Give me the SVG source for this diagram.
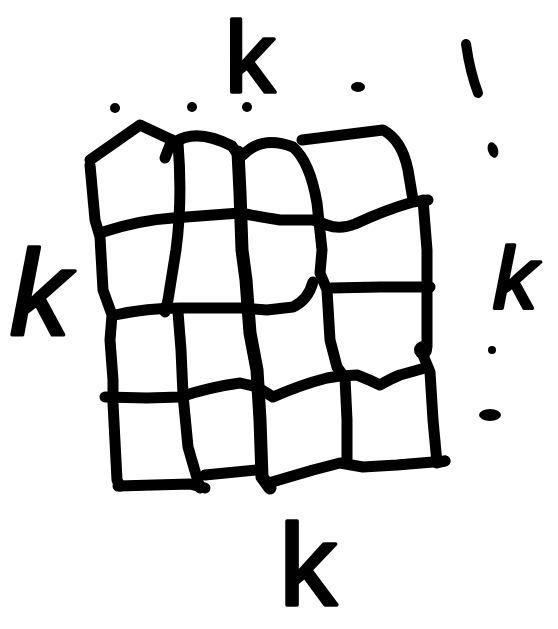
<svg xmlns="http://www.w3.org/2000/svg" width="558" height="629" viewBox="0 0 558 629">
<style>
.ln{fill:none;stroke:#000;stroke-width:11;stroke-linecap:round;stroke-linejoin:round}
.dot{fill:#000}
.lbl{font-family:"Liberation Sans",Arial,sans-serif;font-weight:normal;fill:#000;stroke:#000;stroke-width:3.5;stroke-linejoin:round;text-anchor:middle}
</style>
<rect width="558" height="629" fill="#fff"/>
<g id="grid">
<path class="ln" d="M90,160 L140,125 L172,140"/>
<path class="ln" d="M90,165 L95,220 L100,237 L103,290 L112,315 L110,340 L113,380 L113,403 L117,480 L120,486"/>
<path class="ln" d="M165,158 L172,140"/>
<path class="ln" d="M178,143 C181,180 180,220 176,250 L168,300 L165,312"/>
<path class="ln" d="M178,312 L181,350 L183,395 L188,447 L197,478 L200,488"/>
<path class="ln" d="M175,142 Q197,128 232,146 L240,158"/>
<path class="ln" d="M238,152 L240,193 L242,250 L246,280 L248,307 L250,333 L257,370 L260,420 L262,477 L270,488" style="stroke-width:13"/>
<path class="ln" d="M243,155 Q262,135 293,147 Q310,162 317,203 L322,250 L320,273 L327,290 L330,340 L337,367 L345,378 L347,420 L347,462"/>
<path class="ln" d="M302,140 L383,130 Q402,140 408,170 L413,200"/>
<path class="ln" d="M423,200 L427,250 L427,290 L427,347"/>
<circle class="dot" cx="423" cy="350" r="9"/>
<path class="ln" d="M423,355 L430,372 L433,420 L437,463 L445,461"/>
<path class="ln" d="M103,232 Q140,220 173,218 L213,215 L240,213 Q255,216 280,220 L313,220 L327,225 Q340,230 355,224 Q385,210 413,202 L428,200"/>
<path class="ln" d="M115,315 Q147,308 180,308 L240,308 L267,310 L293,307 Q308,300 313,282"/>
<path class="ln" d="M331,288 L380,287 L430,287"/>
<path class="ln" d="M105,397 L147,398 L180,397 Q210,387 240,383 L257,387 L273,397 Q300,385 327,378 L340,376 L357,375 Q370,380 380,385 Q392,378 400,375 L425,368"/>
<path class="ln" d="M118,486 L190,484 L205,488"/>
<path class="ln" d="M205,475 L257,470"/>
<path class="ln" d="M272,482 L313,470 L340,463 L363,467 L397,465 L445,461"/>
</g>
<g id="dots">
<circle class="dot" cx="115" cy="108" r="5"/>
<circle class="dot" cx="192" cy="107" r="5"/>
<circle class="dot" cx="247" cy="107" r="5"/>
<ellipse class="dot" cx="358" cy="87" rx="7" ry="5"/>
<path class="ln" d="M466,44 Q470,72 478,93" style="stroke-width:10"/>
<ellipse class="dot" cx="493" cy="150" rx="5" ry="8" transform="rotate(-20 493 150)"/>
<circle class="dot" cx="492" cy="350" r="4"/>
<ellipse class="dot" cx="490" cy="415" rx="11" ry="6"/>
</g>
<g id="labels">
<text class="lbl" x="250" y="92" font-size="100">k</text>
<text class="lbl" x="40" y="335" font-size="120" font-style="italic">k</text>
<text class="lbl" x="308" y="604" font-size="115">k</text>
<text class="lbl" x="515" y="308" font-size="88" font-style="italic">k</text>
</g>
</svg>
